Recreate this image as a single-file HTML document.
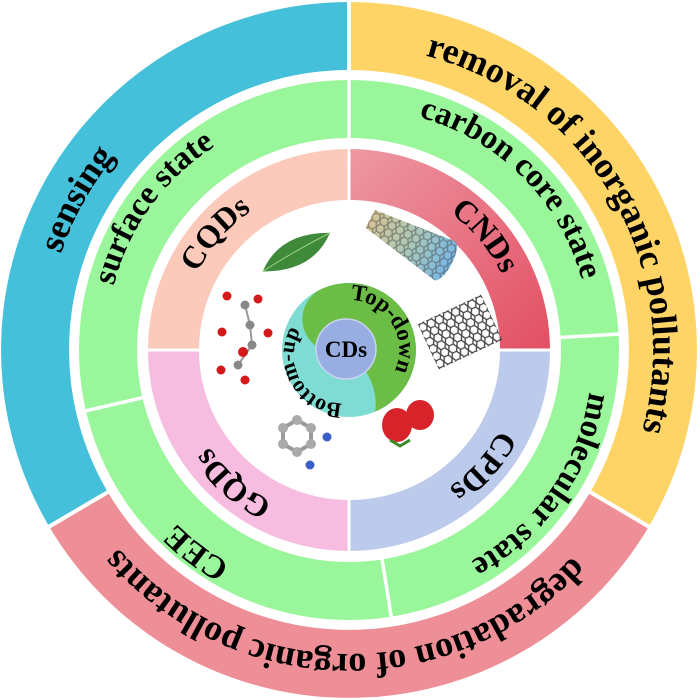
<!DOCTYPE html>
<html><head><meta charset="utf-8"><style>
html,body{margin:0;padding:0;background:#fff;}
svg{display:block;}
text{font-family:"Liberation Serif",serif;font-weight:bold;fill:#000;}
</style></head><body>
<svg width="700" height="700" viewBox="0 0 700 700" xmlns="http://www.w3.org/2000/svg">
<defs>
<linearGradient id="red" x1="0" y1="0" x2="1" y2="1">
<stop offset="0" stop-color="#ee98a4"/><stop offset="1" stop-color="#e24f63"/></linearGradient>
<linearGradient id="tube" x1="0" y1="0" x2="1" y2="0">
<stop offset="0" stop-color="#c8b070"/><stop offset="0.5" stop-color="#8fb7a0"/><stop offset="1" stop-color="#4aa0e0"/></linearGradient>
<pattern id="hex" width="9" height="8" patternUnits="userSpaceOnUse">
<path d="M0,4 L2.2,0 L6.8,0 L9,4 L6.8,8 L2.2,8 Z" fill="none" stroke="#444" stroke-width="1.3"/></pattern>
<path id="p1" d="M157.7,586.2 A304 304 0 0 1 448.0,62.6"/>
<path id="p2" d="M245.0,64.3 A304 304 0 0 1 544.4,582.9"/>
<path id="p3" d="M647.4,408.0 A304 304 0 0 1 48.7,397.5"/>
<path id="g1" d="M181.4,511.9 A231 231 0 0 1 451.1,140.6"/>
<path id="g2" d="M215.4,159.1 A231 231 0 0 1 539.9,483.6"/>
<path id="g3" d="M513.8,185.2 A231 231 0 0 1 250.5,561.2"/>
<path id="g4" d="M507.9,520.4 A231 231 0 0 1 141.4,244.2"/>
<path id="i1" d="M220.8,453.8 A164 164 0 0 1 434.0,208.6"/>
<path id="i2" d="M266.5,207.1 A164 164 0 0 1 475.4,456.1"/>
<path id="i3" d="M477.2,246.2 A164 164 0 0 1 264.0,491.4"/>
<path id="i4" d="M452.8,478.2 A164 164 0 0 1 207.6,265.0"/>
<path id="c1" d="M330.3,303.6 A50 50 0 0 1 382.5,387.2"/>
<path id="c2" d="M366.1,397.0 A47 47 0 0 1 318.1,313.2"/>
</defs>

<path d="M349,2 A348,348 0 0 1 648.8,526.6 L590.2,492.1 A280,280 0 0 0 349,70 Z" fill="#fdd465"/>
<path d="M648.8,526.6 A348 348 0 0 1 49.2,526.6 L107.8,492.1 A280 280 0 0 0 590.2,492.1 Z" fill="#ee8e96"/>
<path d="M49.2,526.6 A348 348 0 0 1 349,2 L349,70 A280 280 0 0 0 107.8,492.1 Z" fill="#45c0da"/>
<g stroke="#fff" stroke-width="4">
<line x1="349" y1="0" x2="349" y2="75"/>
<line x1="585.9" y1="489.6" x2="652.3" y2="528.6"/>
<line x1="112.1" y1="489.6" x2="45.7" y2="528.6"/>
</g>
<circle cx="349" cy="350" r="241" fill="none" stroke="#9af69a" stroke-width="58"/>
<g stroke="#fff" stroke-width="3.5">
<line x1="349" y1="76" x2="349" y2="140"/>
<line x1="553.6" y1="337.9" x2="623.5" y2="333.8"/>
<line x1="381" y1="552.5" x2="392" y2="621.7"/>
<line x1="149.3" y1="396.1" x2="81.1" y2="411.9"/>
</g>
<path d="M148,350 A201 201 0 0 1 349,149 L349,200 A150 150 0 0 0 199,350 Z" fill="#fbcabb"/>
<path d="M349,149 A201 201 0 0 1 550,350 L500,350 A150 150 0 0 0 349,200 Z" fill="url(#red)"/>
<path d="M550,350 A201 201 0 0 1 349,551 L349,500 A150 150 0 0 0 500,350 Z" fill="#bccbeb"/>
<path d="M349,551 A201 201 0 0 1 148,350 L199,350 A150 150 0 0 0 349,500 Z" fill="#f6bde0"/>
<g stroke="#fff" stroke-width="3">
<line x1="349" y1="146" x2="349" y2="202"/><line x1="349" y1="498" x2="349" y2="554"/>
<line x1="146" y1="350" x2="202" y2="350"/><line x1="498" y1="350" x2="554" y2="350"/>
</g>

<g transform="translate(297,254) rotate(-18)">
<path d="M-38,6 Q-10,-26 38,-10 Q10,22 -38,6 Z" fill="#3f8a3a"/>
<path d="M-38,6 Q0,-4 38,-10" stroke="#9ccf80" stroke-width="1" fill="none"/>
</g>
<g transform="translate(410,240) rotate(28)">
<path d="M-45,-10 L40,-20 A8,22 0 0 1 40,24 L-45,10 Z" fill="url(#tube)" opacity="0.75"/>
<path d="M-45,-10 L40,-20 A8,22 0 0 1 40,24 L-45,10 Z" fill="url(#hex)" opacity="0.5"/>
</g>
<g transform="translate(460,332) rotate(-25)">
<rect x="-35" y="-25" width="70" height="50" fill="url(#hex)"/>
</g>
<g stroke="#999" stroke-width="2">
<line x1="245" y1="305" x2="250" y2="325"/><line x1="250" y1="325" x2="252" y2="345"/><line x1="252" y1="345" x2="238" y2="365"/>
</g>
<g fill="#888">
<circle cx="245" cy="305" r="4.5"/><circle cx="250" cy="325" r="4.5"/><circle cx="252" cy="345" r="4.5"/><circle cx="238" cy="365" r="4.5"/>
</g>
<g fill="#d31919">
<circle cx="227" cy="296" r="4.5"/><circle cx="258" cy="299" r="4.5"/><circle cx="268" cy="333" r="4.5"/><circle cx="222" cy="332" r="4.5"/><circle cx="243" cy="352" r="5"/><circle cx="221" cy="370" r="4.5"/><circle cx="245" cy="380" r="4.5"/>
</g>
<g stroke="#999" stroke-width="4" fill="none">
<polygon points="283,428 297,420 311,428 311,444 297,452 283,444"/>
</g>
<g fill="#aaa"><circle cx="283" cy="428" r="5"/><circle cx="297" cy="420" r="5"/><circle cx="311" cy="428" r="5"/><circle cx="311" cy="444" r="5"/><circle cx="297" cy="452" r="5"/><circle cx="283" cy="444" r="5"/></g>
<circle cx="327" cy="437" r="4.5" fill="#3a5fc7"/><circle cx="310" cy="465" r="4.5" fill="#3a5fc7"/>
<g fill="#d8232a">
<ellipse cx="397" cy="425" rx="15" ry="17"/><ellipse cx="420" cy="415" rx="14" ry="15"/>
</g>
<path d="M390,440 l10,6 l10,-6" stroke="#3a8a2a" stroke-width="3" fill="none"/>

<circle cx="349" cy="350" r="67" fill="#7fdcd2"/>
<g transform="translate(349,350) rotate(-23)">
<path d="M0,-67 A67 67 0 0 1 0,67 Q16,40 0,0 A33.5 33.5 0 0 1 0,-67 Z" fill="#6cbd45"/>
</g>
<circle cx="346" cy="349" r="30" fill="#98aee2" stroke="#c8d4f0" stroke-width="1.5"/>
<text x="346" y="357" font-size="23" text-anchor="middle">CDs</text>
<text font-size="23"><textPath href="#c1" startOffset="50%" text-anchor="middle">Top-down</textPath></text>
<text font-size="22"><textPath href="#c2" startOffset="50%" text-anchor="middle">Bottom-up</textPath></text>

<text font-size="36"><textPath href="#p1" startOffset="50%" text-anchor="middle">sensing</textPath></text>
<text font-size="36"><textPath href="#p2" startOffset="50%" text-anchor="middle">removal of inorganic pollutants</textPath></text>
<text font-size="36"><textPath href="#p3" startOffset="50%" text-anchor="middle">degradation of organic pollutants</textPath></text>
<text font-size="33"><textPath href="#g1" startOffset="50%" text-anchor="middle">surface state</textPath></text>
<text font-size="33"><textPath href="#g2" startOffset="50%" text-anchor="middle">carbon core state</textPath></text>
<text font-size="33"><textPath href="#g3" startOffset="50%" text-anchor="middle">molecular state</textPath></text>
<text font-size="33"><textPath href="#g4" startOffset="50%" text-anchor="middle">CEE</textPath></text>
<text font-size="32"><textPath href="#i1" startOffset="50%" text-anchor="middle">CQDs</textPath></text>
<text font-size="32"><textPath href="#i2" startOffset="50%" text-anchor="middle">CNDs</textPath></text>
<text font-size="32"><textPath href="#i3" startOffset="50%" text-anchor="middle">CPDs</textPath></text>
<text font-size="32"><textPath href="#i4" startOffset="50%" text-anchor="middle">GQDs</textPath></text>
</svg>
</body></html>
